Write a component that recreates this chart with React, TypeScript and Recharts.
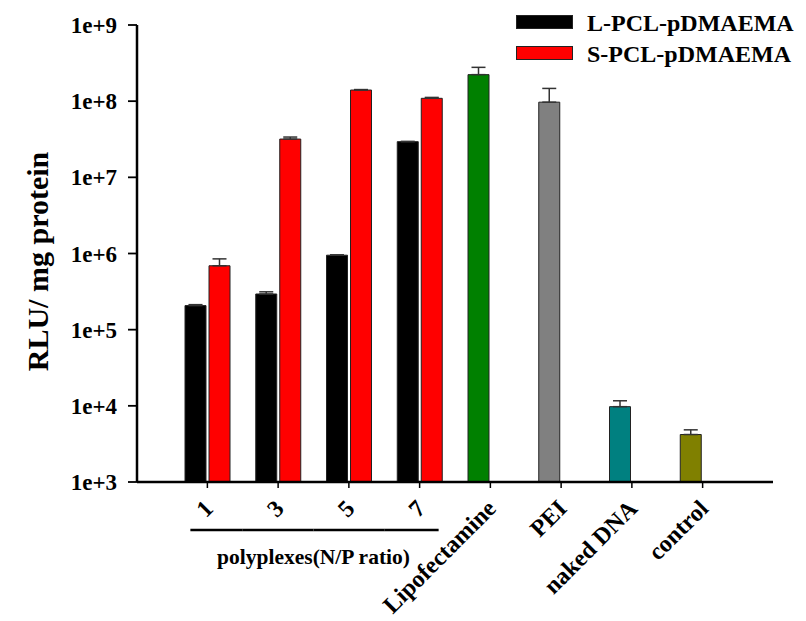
import React from "react";
import { BarChart, Bar, XAxis, YAxis, ErrorBar, Cell } from "recharts";

const categories = ["1", "3", "5", "7", "Lipofectamine", "PEI", "naked DNA", "control"];
// L-PCL-pDMAEMA slot also carries the single control bars (Lipofectamine, PEI, naked DNA, control)
const lValues = [2.07e5, 2.94e5, 9.5e5, 2.94e7, 2.23e8, 9.7e7, 9.75e3, 4.2e3];
const lErrors = [0.06e5, 0.2e5, 0.1e5, 0.02e7, 0.55e8, 0.5e8, 0.19e4, 0.64e3];
const sValues = [6.9e5, 3.18e7, 1.4e8, 1.09e8, null, null, null, null];
const sErrors = [1.6e5, 0.2e7, 0.02e8, 0.03e8, null, null, null, null];
const lColors = ["#000000", "#000000", "#000000", "#000000", "#008000", "#808080", "#008080", "#808000"];
const yTicks = [1e3, 1e4, 1e5, 1e6, 1e7, 1e8, 1e9];

const legendItems = [
  { name: "L-PCL-pDMAEMA", color: "#000000" },
  { name: "S-PCL-pDMAEMA", color: "#FF0000" },
];

const data = categories.map((name, i) => ({
  name,
  l: lValues[i],
  lErr: [0, lErrors[i]],
  s: sValues[i],
  sErr: sErrors[i] == null ? null : [0, sErrors[i]],
}));

const FONT = "'Liberation Serif', 'Times New Roman', serif";
const HALF_BAND = 35.4;
const GROUP_COUNT = 4;

const XTick = (props: any) => {
  const { x, y, payload, index } = props;
  const ax = x + 7;
  const ay = y + 20;
  let x1 = x - HALF_BAND;
  let x2 = x + HALF_BAND;
  if (index === 0) x1 = x - 17;
  if (index === GROUP_COUNT - 1) x2 = x + 19;
  return (
    <g>
      <text
        x={ax}
        y={ay}
        transform={`rotate(-45, ${ax}, ${ay})`}
        textAnchor="end"
        fontFamily={FONT}
        fontWeight="bold"
        fontSize={24}
        fill="#000"
      >
        {payload.value}
      </text>
      {index < GROUP_COUNT && (
        <line x1={x1} x2={x2} y1={y + 40} y2={y + 40} stroke="#000" strokeWidth={2.5} />
      )}
      {index === 1 && (
        <text
          x={x + HALF_BAND}
          y={y + 74}
          textAnchor="middle"
          fontFamily={FONT}
          fontWeight="bold"
          fontSize={21.5}
          fill="#000"
        >
          polyplexes(N/P ratio)
        </text>
      )}
    </g>
  );
};

const YLabel = (props: any) => {
  const { viewBox } = props;
  const cx = viewBox.x + 29;
  const cy = viewBox.y + viewBox.height / 2 + 8;
  return (
    <text
      x={cx}
      y={cy}
      transform={`rotate(-90, ${cx}, ${cy})`}
      textAnchor="middle"
      dominantBaseline="central"
      fontFamily={FONT}
      fontWeight="bold"
      fontSize={30}
      fill="#000"
    >
      RLU/ mg protein
    </text>
  );
};

const App: React.FC = () => {
  return (
    <div style={{ position: "relative", width: 798, height: 613 }}>
      <BarChart
        width={798}
        height={613}
        data={data}
        margin={{ top: 17, right: 33, bottom: 0, left: 0 }}
        barSize={21}
        barGap={3}
      >
        <XAxis
          dataKey="name"
          height={139}
          padding={{ left: 35, right: 35 }}
          interval={0}
          tick={<XTick />}
          tickSize={6}
          axisLine={{ stroke: "#000", strokeWidth: 2.5 }}
          tickLine={{ stroke: "#000", strokeWidth: 1.5 }}
        />
        <YAxis
          scale="log"
          domain={[1e3, 1e9]}
          ticks={yTicks}
          allowDataOverflow
          width={129}
          tickSize={9}
          tickMargin={11}
          tickFormatter={(v: number) => `1e+${Math.round(Math.log10(v))}`}
          tick={{ fill: "#000", fontFamily: FONT, fontWeight: "bold", fontSize: 23 }}
          axisLine={{ stroke: "#000", strokeWidth: 2.5 }}
          tickLine={{ stroke: "#000", strokeWidth: 1.8 }}
          label={<YLabel />}
        />
        <Bar dataKey="l" stroke="#222" strokeWidth={1} isAnimationActive={false}>
          {data.map((d, i) => (
            <Cell key={d.name} fill={lColors[i]} />
          ))}
          <ErrorBar dataKey="lErr" width={7} stroke="#333" strokeWidth={1.5} />
        </Bar>
        <Bar dataKey="s" fill="#FF0000" stroke="#222" strokeWidth={1} isAnimationActive={false}>
          <ErrorBar dataKey="sErr" width={7} stroke="#333" strokeWidth={1.5} />
        </Bar>
      </BarChart>
      <svg
        width={290}
        height={62}
        style={{ position: "absolute", left: 508, top: 7, overflow: "visible" }}
      >
        {legendItems.map((item, i) => (
          <g key={item.name}>
            <rect x={0.5} y={i * 31 + 0.5} width={56} height={13} fill={item.color} stroke="#222" />
            <text
              x={71}
              y={i * 31 + 16}
              fontFamily={FONT}
              fontWeight="bold"
              fontSize={24}
              fill="#000"
            >
              {item.name}
            </text>
          </g>
        ))}
      </svg>
    </div>
  );
};

export default App;
